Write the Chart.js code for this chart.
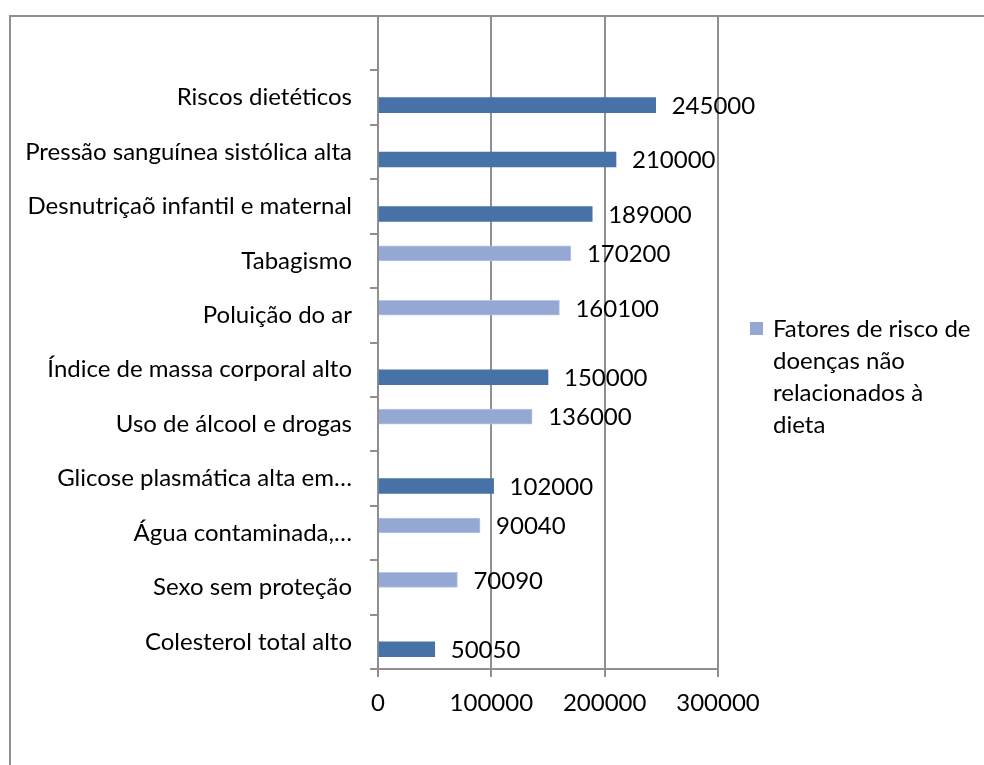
<!DOCTYPE html>
<html>
<head>
<meta charset="utf-8">
<script src="https://cdn.jsdelivr.net/npm/chart.js@4.4.1/dist/chart.umd.min.js"></script>
<style>
  html, body { margin: 0; padding: 0; background: #fff; }
  #wrap { width: 984px; height: 765px; }
</style>
</head>
<body>
<div id="wrap"><canvas id="myChart" width="984" height="765"></canvas></div>
<script>
// categories, top to bottom (first row is left empty)
var categories = ["", "Riscos dietéticos", "Pressão sanguínea sistólica alta", "Desnutriçaõ infantil e maternal",
    "Tabagismo", "Poluição do ar", "Índice de massa corporal alto", "Uso de álcool e drogas",
    "Glicose plasmática alta em…", "Água contaminada,…", "Sexo sem proteção", "Colesterol total alto"];

// risk factors not related to diet
var naoDieta = [null, null, null, null, 170200, 160100, null, 136000, null, 90040, 70090, null];
// diet related risk factors
var dieta = [null, 245000, 210000, 189000, null, null, 150000, null, 102000, null, null, 50050];

var xTicks = [0, 100000, 200000, 300000];

var FONT = 'Lato, "Open Sans", sans-serif';
var FONT_SIZE = 24;
var LIGHT = '#94a8d3';
var DARK = '#4672a8';
var GRID = '#8f8f8f';

// outer frame of the chart
var framePlugin = {
    id: 'frame',
    beforeDraw: function(chart) {
        var c = chart.ctx;
        c.save();
        c.strokeStyle = GRID;
        c.lineWidth = 2;
        c.strokeRect(10, 16, 1100, 900);
        c.restore();
    }
};

// value written to the right of each bar
var valuePlugin = {
    id: 'values',
    afterDatasetsDraw: function(chart) {
        var c = chart.ctx;
        c.save();
        c.font = FONT_SIZE + 'px ' + FONT;
        c.fillStyle = '#000';
        c.textAlign = 'left';
        c.textBaseline = 'middle';
        chart.data.datasets.forEach(function(ds, i) {
            chart.getDatasetMeta(i).data.forEach(function(bar, j) {
                var v = ds.data[j];
                if (v === null) return;
                c.fillText(String(v), bar.x + 16, bar.y + 1);
            });
        });
        c.restore();
    }
};

// legend on the right, only the first series, wrapped onto several lines
var legendPlugin = {
    id: 'sideLegend',
    afterDraw: function(chart) {
        var c = chart.ctx;
        var ds = chart.data.datasets[0];
        c.save();
        c.font = FONT_SIZE + 'px ' + FONT;
        var words = ds.label.split(' ');
        var lines = [], line = '';
        words.forEach(function(w) {
            var t = line ? line + ' ' + w : w;
            if (c.measureText(t).width > 201 && line) {
                lines.push(line);
                line = w;
            } else {
                line = t;
            }
        });
        lines.push(line);
        c.fillStyle = ds.backgroundColor;
        c.fillRect(750, 322, 13, 13);
        c.fillStyle = '#000';
        c.textBaseline = 'middle';
        lines.forEach(function(l, k) {
            c.fillText(l, 773, 329 + k * 32);
        });
        c.restore();
    }
};

var ctx = document.getElementById('myChart').getContext('2d');
var chart = new Chart(ctx, {
    type: 'bar',
    data: {
        labels: categories,
        datasets: [
            {
                label: 'Fatores de risco de doenças não relacionados à dieta',
                data: naoDieta,
                backgroundColor: LIGHT,
                borderColor: '#b7c6e6',
                borderWidth: 1,
                barThickness: 15
            },
            {
                label: 'Fatores de risco relacionados à dieta',
                data: dieta,
                backgroundColor: DARK,
                borderWidth: 0,
                barThickness: 15
            }
        ]
    },
    options: {
        indexAxis: 'y',
        responsive: false,
        animation: false,
        events: [],
        layout: { padding: { left: 0, top: 16, right: 266, bottom: 0 } },
        plugins: {
            legend: { display: false },
            tooltip: { enabled: false }
        },
        scales: {
            x: {
                min: 0,
                max: 300000,
                afterBuildTicks: function(scale) {
                    scale.ticks = xTicks.map(function(v) { return { value: v }; });
                },
                afterFit: function(scale) {
                    scale.height = 96;
                    scale.paddingLeft = 0;
                    scale.paddingRight = 0;
                },
                grid: { color: GRID, lineWidth: 2, tickLength: 8 },
                border: { color: GRID, width: 2 },
                ticks: {
                    color: '#000',
                    font: { family: FONT, size: FONT_SIZE },
                    padding: 12,
                    maxRotation: 0,
                    callback: function(v) { return String(v); }
                }
            },
            y: {
                afterFit: function(scale) {
                    scale.width = 378;
                    scale.paddingTop = 0;
                    scale.paddingBottom = 0;
                },
                grid: { drawOnChartArea: false, color: GRID, lineWidth: 2, tickLength: 8 },
                border: { color: GRID, width: 2 },
                ticks: {
                    color: '#000',
                    font: { family: FONT, size: FONT_SIZE },
                    padding: 18,
                    autoSkip: false
                }
            }
        }
    },
    plugins: [framePlugin, valuePlugin, legendPlugin]
});
</script>
</body>
</html>
